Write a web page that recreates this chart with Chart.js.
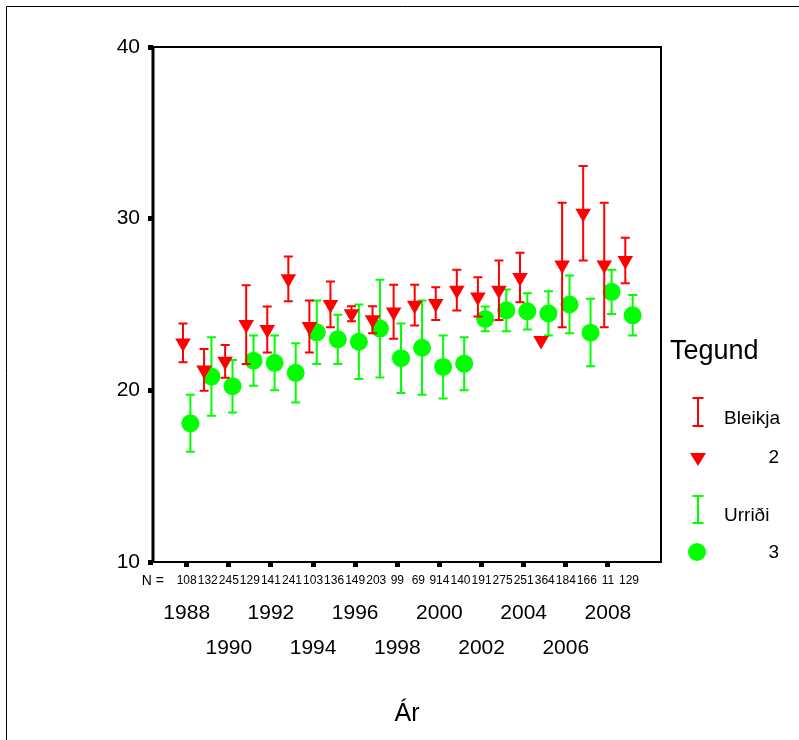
<!DOCTYPE html>
<html><head><meta charset="utf-8">
<script src="https://cdn.jsdelivr.net/npm/chart.js@4.4.0/dist/chart.umd.min.js"></script>
<style>html,body{margin:0;padding:0;background:#fff}canvas{display:block}</style>
</head><body>
<canvas id="c" width="799" height="740"></canvas>
<script>
const years = [1988,1989,1990,1991,1992,1993,1994,1995,1996,1997,1998,1999,2000,2001,2002,2003,2004,2005,2006,2007,2008,2009];
const nLabels = ["108","132","245","129","141","241","103","136","149","203","99","69","914","140","191","275","251","364","184","166","11","129"];
const bleikjaMean = [22.76,21.19,21.69,23.83,23.55,26.5,23.72,25.0,24.46,24.11,24.57,24.96,25.06,25.83,25.44,25.83,26.57,22.9,27.3,30.32,27.3,27.57];
const bleikjaLow  = [21.63,19.98,20.74,21.53,22.21,25.19,22.21,23.67,24.02,23.32,23.0,23.77,24.1,24.65,24.3,24.1,25.13,null,23.67,27.57,23.67,26.24];
const bleikjaHigh = [23.9,22.41,22.64,26.12,24.88,27.8,25.23,26.34,24.9,24.9,26.15,26.15,26.01,27.02,26.59,27.57,28.01,null,30.93,33.07,30.93,28.89];
const urridiMean = [18.08,20.8,20.24,21.73,21.6,21.02,23.38,22.97,22.83,23.6,21.87,22.48,21.36,21.55,24.16,24.66,24.6,24.48,25.0,23.36,25.74,24.37];
const urridiLow  = [16.42,18.52,18.71,20.27,20.0,19.29,21.53,21.53,20.66,20.75,19.84,19.74,19.53,20.0,23.44,23.44,23.54,23.19,23.32,21.4,24.45,23.19];
const urridiHigh = [19.74,23.09,21.77,23.19,23.19,22.74,25.23,24.41,25.0,26.44,23.9,25.23,23.19,23.09,24.88,25.87,25.66,25.77,26.69,25.33,27.02,25.56];
const yTicks = [10,20,30,40];
const xTickYears = [1988,1990,1992,1994,1996,1998,2000,2002,2004,2006,2008];
const seriesNames = ["Bleikja","Urriði"];
const legendTitle = "Tegund";
const axisTitle = "Ár";

const RED = '#ff0000', GREEN = '#00ff00';
const FONT = "'Liberation Sans', Arial, sans-serif";
const OFF = 0.175;

const errorBars = [
  {lo: bleikjaLow, hi: bleikjaHigh, off: -OFF, color: RED},
  {lo: urridiLow, hi: urridiHigh, off: OFF, color: GREEN}
];

const customDraw = {
  id: 'customDraw',
  beforeDatasetDraw(chart, args) {
    const eb = errorBars[args.index];
    const ctx = chart.ctx, xs = chart.scales.x, ys = chart.scales.y;
    ctx.save();
    ctx.strokeStyle = eb.color; ctx.lineWidth = 2;
    years.forEach((yr, i) => {
      if (eb.lo[i] == null || eb.hi[i] == null) return;
      const x = xs.getPixelForValue(yr + eb.off);
      const y1 = ys.getPixelForValue(eb.hi[i]), y2 = ys.getPixelForValue(eb.lo[i]);
      ctx.beginPath();
      ctx.moveTo(x, y1); ctx.lineTo(x, y2);
      ctx.moveTo(x - 4.5, y1); ctx.lineTo(x + 4.5, y1);
      ctx.moveTo(x - 4.5, y2); ctx.lineTo(x + 4.5, y2);
      ctx.stroke();
    });
    ctx.restore();
  },
  afterDraw(chart) {
    const ctx = chart.ctx, a = chart.chartArea, xs = chart.scales.x;
    ctx.save();
    ctx.strokeStyle = '#000'; ctx.lineWidth = 2;
    ctx.strokeRect(a.left, a.top, a.right - a.left, a.bottom - a.top);
    ctx.lineWidth = 3;
    ctx.beginPath(); ctx.moveTo(a.left, a.top - 1); ctx.lineTo(a.left, a.bottom + 1); ctx.stroke();
    ctx.lineWidth = 1;
    ctx.beginPath(); ctx.moveTo(6.5, 745); ctx.lineTo(6.5, 6.5); ctx.lineTo(799, 6.5); ctx.stroke();
    ctx.fillStyle = '#000';
    ctx.textBaseline = 'middle';
    ctx.textAlign = 'right';
    ctx.font = "14px " + FONT;
    ctx.fillText('N =', 164, 581);
    ctx.font = "12px " + FONT;
    ctx.textAlign = 'center';
    years.forEach((yr, i) => {
      ctx.fillText(nLabels[i], xs.getPixelForValue(yr), 581);
    });
    ctx.textAlign = 'left'; ctx.textBaseline = 'alphabetic';
    ctx.font = "27px " + FONT;
    ctx.fillText(legendTitle, 670, 359);
    function ibar(x, y1, y2, color) {
      ctx.strokeStyle = color; ctx.lineWidth = 2;
      ctx.beginPath();
      ctx.moveTo(x, y1); ctx.lineTo(x, y2);
      ctx.moveTo(x - 5.5, y1); ctx.lineTo(x + 5.5, y1);
      ctx.moveTo(x - 5.5, y2); ctx.lineTo(x + 5.5, y2);
      ctx.stroke();
    }
    ibar(698, 398, 426, RED);
    ibar(698, 496, 523, GREEN);
    ctx.font = "19px " + FONT;
    ctx.textBaseline = 'middle';
    ctx.fillText(seriesNames[0], 724, 419);
    ctx.fillText(seriesNames[1], 724, 516);
    ctx.textAlign = 'right';
    ctx.fillText('2', 779, 458);
    ctx.fillText('3', 779, 553);
    ctx.fillStyle = RED;
    ctx.beginPath(); ctx.moveTo(690, 453); ctx.lineTo(706, 453); ctx.lineTo(698, 466); ctx.closePath(); ctx.fill();
    ctx.fillStyle = GREEN;
    ctx.beginPath(); ctx.arc(697, 552, 9, 0, Math.PI * 2); ctx.fill();
    ctx.restore();
  }
};

new Chart(document.getElementById('c'), {
  type: 'scatter',
  data: {
    datasets: [
      { label: seriesNames[0], data: years.map((y, i) => ({x: y - OFF, y: bleikjaMean[i]})),
        pointStyle: 'triangle', rotation: 180, radius: 9, backgroundColor: RED, borderColor: RED, borderWidth: 0 },
      { label: seriesNames[1], data: years.map((y, i) => ({x: y + OFF, y: urridiMean[i]})),
        pointStyle: 'circle', radius: 9, backgroundColor: GREEN, borderColor: GREEN, borderWidth: 0 }
    ]
  },
  options: {
    responsive: false, animation: false, devicePixelRatio: 1,
    layout: { padding: { top: 47, right: 138, bottom: 0, left: 0 } },
    plugins: { legend: { display: false }, tooltip: { enabled: false } },
    scales: {
      x: {
        type: 'linear', min: 1986.4, max: 2010.52,
        afterBuildTicks: s => { s.ticks = xTickYears.map(v => ({value: v})); },
        afterFit: s => { s.height = 178; },
        grid: { drawOnChartArea: false, drawTicks: true, tickLength: 5, tickWidth: 5, tickColor: '#000' },
        border: { display: false },
        ticks: { autoSkip: false, maxRotation: 0, minRotation: 0, padding: 28.5, color: '#000',
          font: { family: FONT, size: 21, lineHeight: '35px' },
          callback: (v, i) => i % 2 === 0 ? [String(v)] : ['', String(v)] },
        title: { display: true, text: axisTitle, color: '#000', font: { family: FONT, size: 25 }, padding: { top: 0, bottom: 11 } }
      },
      y: {
        min: 10, max: 40,
        afterBuildTicks: s => { s.ticks = yTicks.map(v => ({value: v})); },
        afterFit: s => { s.width = 153; },
        grid: { drawOnChartArea: false, drawTicks: true, tickLength: 5, tickWidth: 5, tickColor: '#000' },
        border: { display: false },
        ticks: { padding: 8, color: '#000', font: { family: FONT, size: 21 } }
      }
    }
  },
  plugins: [customDraw]
});
</script>
</body></html>
